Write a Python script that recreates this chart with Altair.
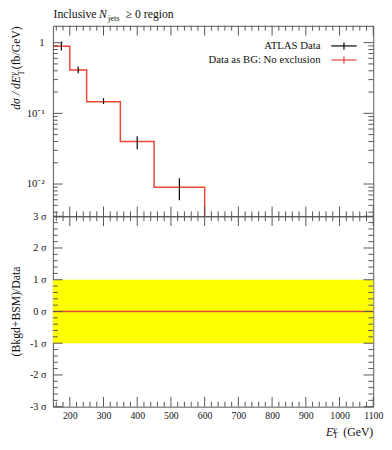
import altair as alt
import pandas as pd

# ---------------- data ----------------
bin_edges = [150, 200, 250, 350, 450, 600]
bin_centers = [175, 225, 300, 400, 525]
data_values = [0.89, 0.41, 0.146, 0.040, 0.0090]
data_err_lo = [0.775, 0.37, 0.136, 0.031, 0.0059]
data_err_hi = [1.04, 0.46, 0.164, 0.0475, 0.0121]
bg_values = [0.89, 0.41, 0.146, 0.040, 0.0090]

x_range = [150, 1100]
ytop_range = [0.0035, 1.73]
ybot_range = [-3, 3]
band_lo = [-1.0]
band_hi = [1.0]
ratio_line = [0.0]

x_major = [200, 300, 400, 500, 600, 700, 800, 900, 1000, 1100]
x_minor = [v for v in range(160, 1100, 20) if v % 100 != 0]
ylog_major = [0.01, 0.1, 1]
ylog_minor = [0.004, 0.005, 0.006, 0.007, 0.008, 0.009,
              0.02, 0.03, 0.04, 0.05, 0.06, 0.07, 0.08, 0.09,
              0.2, 0.3, 0.4, 0.5, 0.6, 0.7, 0.8, 0.9]
sigma_major = [-3, -2, -1, 0, 1, 2, 3]
sigma_minor = [round(v / 5, 1) for v in range(-15, 16) if v % 5 != 0]

legend_labels = ["ATLAS Data", "Data as BG: No exclusion"]

# ---------------- style ----------------
FONT = "Liberation Serif"
TEXT = "#111111"
FRAME = "#555555"
RED = "#EE4433"
YELLOW = "#FFFF00"
W, H = 328, 195
MAJ, MIN = 10, 5

# the histogram drops to the lower edge of the plot after its last bin
step_df = pd.DataFrame({"x": bin_edges, "y": bg_values + [ytop_range[0]]})
data_df = pd.DataFrame({"x": bin_centers, "v": data_values, "lo": data_err_lo, "hi": data_err_hi})
band_df = pd.DataFrame({"x0": [x_range[0]], "x1": [x_range[1]], "lo": band_lo, "hi": band_hi})
line_df = pd.DataFrame({"x0": [x_range[0]], "x1": [x_range[1]], "y": ratio_line})

x_scale = alt.Scale(domain=x_range, nice=False, zero=False)
ytop_scale = alt.Scale(type="log", domain=ytop_range, nice=False)
ybot_scale = alt.Scale(domain=ybot_range, nice=False, zero=False)


def label_axis(orient, values, expr, pad, size):
    return alt.Axis(orient=orient, values=values, ticks=False, domain=False, grid=False,
                    title=None, labelExpr=expr, labelFont=FONT, labelFontSize=size,
                    labelColor=TEXT, labelPadding=pad, labelFlush=False,
                    labelOverlap=False, minExtent=0)


def tick_rules(values, length, channel, scale):
    base = alt.Chart(pd.DataFrame({"v": values})).mark_rule(color=FRAME, strokeWidth=1)
    if channel == "x":
        enc = alt.X("v:Q", scale=scale, axis=None)
        return [base.encode(x=enc, y=alt.value(H), y2=alt.value(H - length)),
                base.encode(x=enc, y=alt.value(0), y2=alt.value(length))]
    enc = alt.Y("v:Q", scale=scale, axis=None)
    return [base.encode(y=enc, x=alt.value(0), x2=alt.value(length)),
            base.encode(y=enc, x=alt.value(W), x2=alt.value(W - length))]


def txt(s, x, y, size=12, style="normal", align="left", angle=0, font=FONT,
        baseline="alphabetic", color=TEXT):
    kw = dict(align=align, baseline=baseline, font=font, fontSize=size,
              fontStyle=style, color=color)
    if angle:
        kw["angle"] = angle
    return alt.Chart(pd.DataFrame({"t": [s]})).mark_text(**kw).encode(
        text="t:N", x=alt.value(x), y=alt.value(y))


def seg(color, x, y, x2=None, y2=None, width=1.2):
    enc = dict(x=alt.value(x), y=alt.value(y))
    if x2 is not None:
        enc["x2"] = alt.value(x2)
    if y2 is not None:
        enc["y2"] = alt.value(y2)
    return alt.Chart(pd.DataFrame({"a": [0]})).mark_rule(color=color, strokeWidth=width).encode(**enc)


# ---------------- top panel ----------------
step = alt.Chart(step_df).mark_line(interpolate="step-after", color=RED, strokeWidth=1.5).encode(
    x=alt.X("x:Q", scale=x_scale, axis=None),
    y=alt.Y("y:Q", scale=ytop_scale, axis=None),
)
err = alt.Chart(data_df).mark_rule(color="black", strokeWidth=1.2).encode(
    x=alt.X("x:Q", scale=x_scale, axis=None),
    y=alt.Y("lo:Q", scale=ytop_scale,
            axis=label_axis("left", ylog_major,
                            "datum.value === 1 ? '1' : datum.value === 0.1 ? '10\u207b\u00b9' : '10\u207b\u00b2'",
                            9, 11)),
    y2="hi:Q",
)

legend = [
    txt(legend_labels[0], 274, 20.6, size=11, align="right", baseline="middle"),
    seg("black", 285, 20.6, x2=311),
    seg("black", 298, 17.0, y2=24.4),
    txt(legend_labels[1], 274, 35.0, size=11, align="right", baseline="middle"),
    seg(RED, 285, 35.0, x2=311),
    seg(RED, 298, 31.4, y2=38.8),
]

title = [
    txt("Inclusive", 0.7, -8.0, size=12),
    txt("N", 47.3, -8.0, size=12, style="italic"),
    txt("jets", 56.3, -5.0, size=8.5),
    txt("\u2265 0 region", 74.5, -8.0, size=12),
]

ytitle_top = [
    txt("d\u03c3 / dE", -33.5, 86, size=12, style="italic", angle=270),
    txt("\u03b3", -38, 51, size=8.5, style="italic", angle=270),
    txt("T", -30, 51, size=8.5, angle=270),
    txt("(fb/GeV)", -33.5, 0.5, size=12, align="right", angle=270),
]

top_ticks = (tick_rules(x_major, MAJ, "x", x_scale) + tick_rules(x_minor, MIN, "x", x_scale)
             + tick_rules(ylog_major, MAJ, "y", ytop_scale) + tick_rules(ylog_minor, MIN, "y", ytop_scale))

top = alt.layer(step, err, *top_ticks, *legend, *title, *ytitle_top).resolve_axis(
    x="independent", y="independent").properties(width=W, height=H)

# ---------------- bottom panel ----------------
band = alt.Chart(band_df).mark_rect(color=YELLOW).encode(
    x=alt.X("x0:Q", scale=x_scale, axis=None),
    x2="x1:Q",
    y=alt.Y("lo:Q", scale=ybot_scale,
            axis=label_axis("left", sigma_major, "'' + datum.value + ' \u03c3'", 7, 10.5)),
    y2="hi:Q",
)
zero_line = alt.Chart(line_df).mark_rule(color=RED, strokeWidth=1.5).encode(
    x=alt.X("x0:Q", scale=x_scale,
            axis=label_axis("bottom", x_major, "'' + datum.value", 4, 10)),
    x2="x1:Q",
    y=alt.Y("y:Q", scale=ybot_scale, axis=None),
)

bot_ticks = (tick_rules(x_major, MAJ, "x", x_scale) + tick_rules(x_minor, MIN, "x", x_scale)
             + tick_rules(sigma_major, MAJ, "y", ybot_scale) + tick_rules(sigma_minor, MIN, "y", ybot_scale))

XT = H + 30.5
xtitle = [
    txt("E", 279.7, XT, size=12, style="italic"),
    txt("\u03b3", 287.0, XT - 5.0, size=8.5, style="italic"),
    txt("T", 286.8, XT + 2.0, size=8.5),
    txt("(GeV)", 328, XT, size=12, align="right"),
]
ytitle_bot = [txt("(Bkgd+BSM)/Data", -33.5, H / 2, size=12, align="center", angle=270)]

bottom = alt.layer(band, zero_line, *bot_ticks, *xtitle, *ytitle_bot).resolve_axis(
    x="independent", y="independent").properties(width=W, height=H)

chart = alt.vconcat(top, bottom, spacing=0, bounds="flush").properties(
    padding={"left": 0, "top": -6, "right": 0, "bottom": 0}).configure_view(
    stroke=FRAME, strokeWidth=1)

chart.save("out.html", embed_options={"renderer": "svg", "actions": False})
